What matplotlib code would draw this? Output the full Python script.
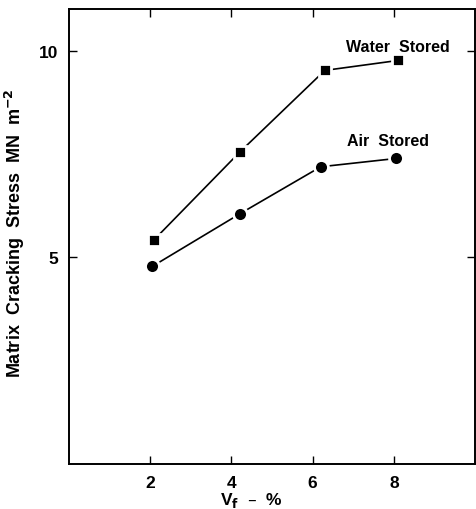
import matplotlib
matplotlib.use("Agg")
import matplotlib.pyplot as plt

plt.rcParams.update(
    {
        "font.family": ["Liberation Sans", "DejaVu Sans"],
        "font.weight": "bold",
        "mathtext.default": "bf",
    }
)

# data
vf_water = [2.1, 4.2, 6.3, 8.1]
stress_water = [5.43, 7.54, 9.52, 9.76]
vf_air = [2.05, 4.22, 6.2, 8.05]
stress_air = [4.78, 6.06, 7.19, 7.39]

x_ticks = [2, 4, 6, 8]
y_ticks = [5, 10]

fig = plt.figure(figsize=(4.76, 5.10), dpi=100)
ax = fig.add_axes([0.145, 0.088, 0.853, 0.892])

ax.plot(vf_water, stress_water, color="black", lw=1.2, marker="s", ms=9,
        mfc="black", mec="white", mew=2.0)
ax.plot(vf_air, stress_air, color="black", lw=1.2, marker="o", ms=10,
        mfc="black", mec="white", mew=2.0)

ax.text(8.1, 10.1, "Water  Stored", ha="center", va="center", fontsize=11.5, fontweight="bold")
ax.text(7.85, 7.83, "Air  Stored", ha="center", va="center", fontsize=11.5, fontweight="bold")

ax.set_xlim(0, 10)
ax.set_ylim(0, 11)
ax.set_xticks(x_ticks)
ax.set_yticks(y_ticks)
ax.tick_params(direction="in", length=6, width=1.0, top=True, right=True,
               labelsize=12.5, pad=8)
for lab in ax.get_xticklabels() + ax.get_yticklabels():
    lab.set_fontweight("bold")
for sp in ax.spines.values():
    sp.set_linewidth(1.4)

ax.set_ylabel(r"Matrix  Cracking  Stress  MN  m$^{-2}$", fontsize=13, fontweight="bold")
ax.yaxis.set_label_coords(-0.103, 0.51)
ax.set_xlabel(r"V$_\mathrm{f}$  –  %", fontsize=12.5, fontweight="bold")
ax.xaxis.set_label_coords(0.45, -0.056)

fig.savefig("out.png", dpi=100)
